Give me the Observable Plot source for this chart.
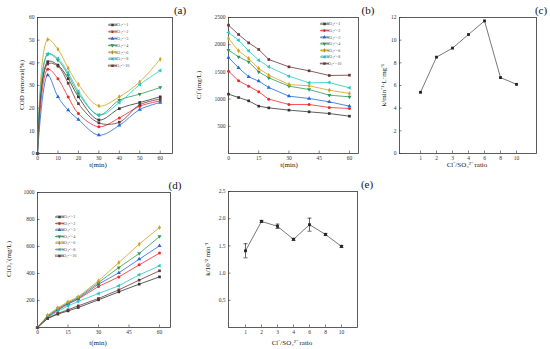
<!DOCTYPE html>
<html><head><meta charset="utf-8">
<script src="https://cdn.jsdelivr.net/npm/d3@7"></script>
<script src="https://cdn.jsdelivr.net/npm/@observablehq/plot@0.6"></script>
<style>
body{margin:0;background:#fff}
#c{position:relative;width:550px;height:349px;overflow:hidden;background:#fff}
#c svg{position:absolute}
</style>
</head><body><div id="c"></div>
<script>
// ---- data ----
const ratios = [1, 2, 3, 4, 6, 8, 10];
const times = [0, 5, 10, 15, 20, 30, 40, 50, 60];
const codRemoval = [
  [0, 40.5, 39, 33, 25, 14.8, 19.8, 22.5, 25],
  [0, 37.2, 33, 24.9, 17.6, 11.8, 15.7, 20.9, 23.2],
  [0, 34.6, 25, 19.1, 15, 8.1, 12.4, 19.4, 22.5],
  [0, 43.8, 41.2, 34.6, 26.5, 17, 23.5, 26.2, 29.1],
  [0, 50.3, 46, 37.6, 30.4, 21, 25, 31.6, 41.6],
  [0, 44, 41.9, 35.6, 27.5, 16.9, 22.5, 30.4, 36.6],
  [0, 39.5, 38.5, 31, 22, 13.5, 13.8, 21.5, 24]
];
const chlorideConc = [
  [1091, 1029, 968, 870, 839, 797, 766, 735, 686],
  [1513, 1336, 1238, 1133, 999, 901, 901, 846, 827],
  [1765, 1575, 1409, 1330, 1213, 1054, 1011, 950, 870],
  [1900, 1777, 1685, 1501, 1391, 1238, 1176, 1072, 1042],
  [2114, 1887, 1746, 1562, 1440, 1268, 1244, 1164, 1103],
  [2224, 2083, 1887, 1716, 1593, 1421, 1299, 1305, 1207],
  [2359, 2187, 2034, 1912, 1728, 1593, 1520, 1434, 1440]
];
const chlorateConc = [
  [0, 67, 99, 123, 148, 205, 264, 321, 375],
  [0, 79, 128, 173, 210, 304, 375, 464, 551],
  [0, 81, 133, 178, 215, 321, 405, 506, 605],
  [0, 86, 141, 183, 222, 333, 444, 548, 674],
  [0, 91, 146, 190, 227, 346, 481, 617, 741],
  [0, 74, 119, 160, 193, 252, 309, 390, 457],
  [0, 69, 104, 131, 160, 215, 279, 351, 420]
];
const kRate = [5.4, 8.5, 9.3, 10.5, 11.7, 6.7, 6.1];
const kPseudo = [1.41, 1.95, 1.86, 1.62, 1.89, 1.71, 1.49];
const kPseudoErr = [0.13, 0.02, 0.04, 0.02, 0.12, 0.02, 0.02];
const ticksA = [0, 10, 20, 30, 40, 50, 60];
const ticksT = [0, 15, 30, 45, 60];
const ticksCOD = [0, 10, 20, 30, 40, 50, 60];
const ticksCl = [500, 1000, 1500, 2000, 2500];
const ticksK = [0, 2, 4, 6, 8, 10, 12];
const ticksClO3 = [200, 400, 600, 800, 1000];
const ticksKp = [0.5, 1.0, 1.5, 2.0, 2.5];

// ---- styles ----
const colors = ["#333333", "#ee2a2a", "#2266dd", "#2a9a5a", "#d4a020", "#22c8c8", "#6a3535"];
const FONT = "Liberation Serif, Times New Roman, serif";
const sq3 = Math.sqrt(3);
const triDown = {draw(c, s){ const y = -Math.sqrt(s/(sq3*3)); c.moveTo(0,-2*y); c.lineTo(-sq3*y, y); c.lineTo(sq3*y, y); c.closePath(); }};
const triLeft = {draw(c, s){ const y = -Math.sqrt(s/(sq3*3)); c.moveTo(2*y,0); c.lineTo(-y, -sq3*y); c.lineTo(-y, sq3*y); c.closePath(); }};
const symbols = [d3.symbolSquare, d3.symbolCircle, d3.symbolTriangle, triDown, d3.symbolDiamond, triLeft, d3.symbolSquare];
const hcap = {draw(c, s){ const w = Math.sqrt(s)*0.7; c.moveTo(-w,0); c.lineTo(w,0); }};
const fmt = d => String(d);
const tickStyle = {tickSize: 2.5, text: null, label: null, stroke: "#333", strokeWidth: 0.6};
const textStyle = {tickSize: 0, tickPadding: 3, fontSize: 5.5, fontFamily: FONT, fill: "#333", label: null};

function longRows(matrix){
  const rows = [];
  matrix.forEach((vals, i) => vals.forEach((v, j) => rows.push({s: i, t: times[j], v})));
  return rows;
}

function seriesMarks(rows, curve){
  const out = [];
  ratios.forEach((r, i) => {
    const d = rows.filter(o => o.s === i);
    out.push(Plot.line(d, {x: "t", y: "v", stroke: colors[i], strokeWidth: 0.8, curve}));
    out.push(Plot.dot(d, {x: "t", y: "v", fill: colors[i], symbol: symbols[i], r: 1.5}));
  });
  return out;
}

function axisMarks(xt, yt, yfmt){
  return [
    Plot.axisX(xt, {...tickStyle, dy: -2.5}),
    Plot.axisX(xt, {...textStyle, tickFormat: fmt}),
    Plot.axisY(yt, {...tickStyle, dx: 2.5}),
    Plot.axisY(yt, {...textStyle, tickFormat: yfmt || fmt})
  ];
}

function place(svg, left, top){
  svg.style.left = left + "px";
  svg.style.top = top + "px";
  document.getElementById("c").appendChild(svg);
  return svg;
}

function labels(svg, xl, xlx, xly, yl, ylx, yly){
  const g = d3.select(svg).append("g");
  g.append("text").attr("x", xlx).attr("y", xly).attr("text-anchor", "middle")
    .attr("font-family", FONT).attr("font-size", 7).attr("fill", "#222").text(xl);
  g.append("text").attr("transform", `translate(${ylx},${yly}) rotate(-90)`).attr("text-anchor", "middle")
    .attr("font-family", FONT).attr("font-size", 7).attr("fill", "#222").text(yl);
}

function legend(svg, x, y, step){
  const g = d3.select(svg).append("g");
  ratios.forEach((r, i) => {
    const yy = y + i * step;
    g.append("line").attr("x1", x).attr("x2", x + 9).attr("y1", yy).attr("y2", yy).attr("stroke", colors[i]).attr("stroke-width", 0.8);
    g.append("path").attr("transform", `translate(${x + 4.5},${yy})`).attr("d", d3.symbol(symbols[i], 6)()).attr("fill", colors[i]);
    g.append("text").attr("x", x + 10.5).attr("y", yy).attr("dy", "0.35em").attr("font-family", FONT)
      .attr("font-size", 4.2).attr("fill", "#555").text(`Cl⁻/SO₄²⁻=${r}`);
  });
}

const base = {style: {fontFamily: FONT, background: "transparent", overflow: "visible", color: "#333"}};

// ---- (a) COD removal ----
const A = Plot.plot({...base, width: 182, height: 175, marginLeft: 37, marginRight: 10, marginTop: 17, marginBottom: 22,
  x: {domain: [0, 66], axis: null}, y: {domain: [0, 60], axis: null},
  marks: [Plot.frame({stroke: "#333", strokeWidth: 0.8}), ...axisMarks(ticksA, ticksCOD), ...seriesMarks(longRows(codRemoval), "catmull-rom")]
});
place(A, 0, 0);
labels(A, "t(min)", 98, 167, "COD removal(%)", 24, 85);
legend(A, 108, 25, 6.8);

// ---- (b) Cl- ----
const B = Plot.plot({...base, width: 185, height: 175, marginLeft: 46, marginRight: 9, marginTop: 17, marginBottom: 22,
  x: {domain: [0, 64.5], axis: null}, y: {domain: [0, 2500], axis: null},
  marks: [Plot.frame({stroke: "#333", strokeWidth: 0.8}), ...axisMarks(ticksT, ticksCl), ...seriesMarks(longRows(chlorideConc), "linear")]
});
place(B, 182, 0);
labels(B, "t(min)", 107, 167, "Cl⁻(mg/L)", 19, 85);
legend(B, 138, 24, 6.6);

// ---- (c) k vs ratio ----
const kRows = ratios.map((r, i) => ({r, k: kRate[i]}));
const C = Plot.plot({...base, width: 188, height: 175, marginLeft: 37, marginRight: 14, marginTop: 17, marginBottom: 22,
  x: {type: "point", domain: ratios, padding: 1.1, axis: null}, y: {domain: [0, 12], axis: null},
  marks: [Plot.frame({stroke: "#333", strokeWidth: 0.8}),
    Plot.axisX({...tickStyle, dy: -2.5}),
    Plot.axisX({...textStyle, tickFormat: fmt}),
    Plot.axisY(ticksK, {...tickStyle, dx: 2.5}),
    Plot.axisY(ticksK, {...textStyle, tickFormat: fmt}),
    Plot.line(kRows, {x: "r", y: "k", stroke: "#555", strokeWidth: 0.8}),
    Plot.dot(kRows, {x: "r", y: "k", fill: "#222", symbol: "square", r: 1.6})]
});
place(C, 362, 0);
labels(C, "Cl⁻/SO₄²⁻ ratio", 105, 167, "k/min⁻¹·L·mg⁻¹", 24, 85);

// ---- (d) ClO3- ----
const D = Plot.plot({...base, width: 182, height: 174, marginLeft: 37, marginRight: 12, marginTop: 17, marginBottom: 22,
  x: {domain: [0, 65.4], axis: null}, y: {domain: [0, 1000], axis: null},
  marks: [Plot.frame({stroke: "#333", strokeWidth: 0.8}), ...axisMarks(ticksT, ticksClO3), ...seriesMarks(longRows(chlorateConc), "linear")]
});
place(D, 0, 175);
labels(D, "t(min)", 98, 170, "ClO₃⁻(mg/L)", 11, 84);
legend(D, 55, 42, 6.5);

// ---- (e) pseudo k ----
const eRows = ratios.map((r, i) => ({r, k: kPseudo[i], lo: kPseudo[i] - kPseudoErr[i], hi: kPseudo[i] + kPseudoErr[i]}));
const E = Plot.plot({...base, width: 185, height: 174, marginLeft: 46, marginRight: 10, marginTop: 16, marginBottom: 22,
  x: {type: "point", domain: ratios, padding: 0.85, axis: null}, y: {domain: [0, 2.5], axis: null},
  marks: [Plot.frame({stroke: "#333", strokeWidth: 0.8}),
    Plot.axisX({...tickStyle, dy: -2.5}),
    Plot.axisX({...textStyle, tickFormat: fmt}),
    Plot.axisY(ticksKp, {...tickStyle, dx: 2.5}),
    Plot.axisY(ticksKp, {...textStyle, tickFormat: d3.format(".1f")}),
    Plot.line(eRows, {x: "r", y: "k", stroke: "#555", strokeWidth: 0.8}),
    Plot.ruleX(eRows, {x: "r", y1: "lo", y2: "hi", stroke: "#222", strokeWidth: 0.7}),
    Plot.dot(eRows, {x: "r", y: "lo", symbol: hcap, stroke: "#222", fill: "none", strokeWidth: 0.7, r: 1.6}),
    Plot.dot(eRows, {x: "r", y: "hi", symbol: hcap, stroke: "#222", fill: "none", strokeWidth: 0.7, r: 1.6}),
    Plot.dot(eRows, {x: "r", y: "k", fill: "#222", symbol: "square", r: 1.6})]
});
place(E, 182, 175);
labels(E, "Cl⁻/SO₄²⁻ ratio", 110, 170, "k/10⁻² min⁻¹", 28, 84);

// ---- panel letters ----
const ov = d3.select("#c").append("svg").attr("width", 550).attr("height", 349).style("left", "0px").style("top", "0px").style("pointer-events", "none");
const letters = [["(a)", 180, 14], ["(b)", 368, 14], ["(c)", 541, 14], ["(d)", 175, 189], ["(e)", 367, 188]];
ov.selectAll("text").data(letters).join("text")
  .attr("x", d => d[1]).attr("y", d => d[2]).attr("text-anchor", "middle")
  .attr("font-family", FONT).attr("font-size", 11).attr("fill", "#111").text(d => d[0]);
</script>
</body></html>
